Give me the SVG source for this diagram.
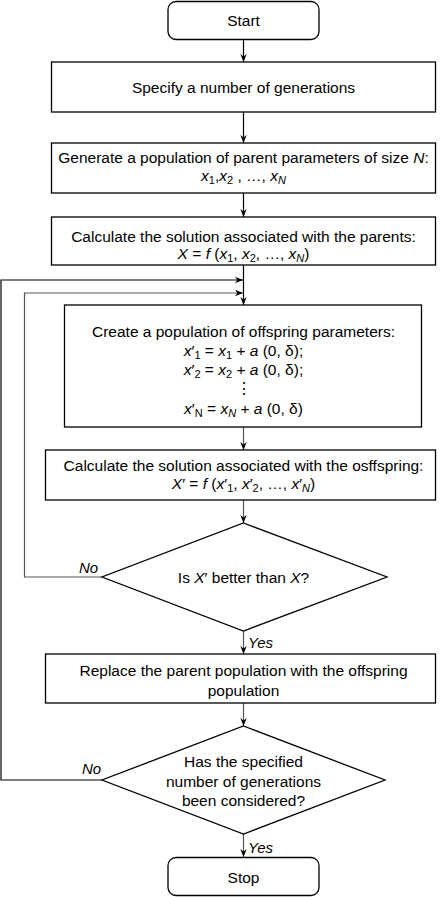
<svg xmlns="http://www.w3.org/2000/svg" width="442" height="897" viewBox="0 0 442 897">
<style>
.n{fill:#fff;stroke:#000;stroke-width:1.3}
.t{font-family:"Liberation Sans",Arial,sans-serif;font-size:15.5px;fill:#000;text-anchor:middle}
.l{font-family:"Liberation Sans",Arial,sans-serif;font-size:15px;font-style:italic;fill:#000}
.i{font-style:italic}
.s{font-size:11px}
.c{fill:none;stroke:#000;stroke-width:1.2}
.g{fill:none;stroke:#555;stroke-width:1.2}
</style>
<defs>
<marker id="a" viewBox="0 0 10 10" refX="10" refY="5" markerWidth="8" markerHeight="8" markerUnits="userSpaceOnUse" orient="auto">
<path d="M0,1 L10,5 L0,9 L3,5 z" fill="#000"/>
</marker>
</defs>
<rect width="442" height="897" fill="#fff"/>
<g id="connectors">
<line class="c" x1="243.5" y1="39" x2="243.5" y2="62" marker-end="url(#a)"/>
<line class="c" x1="243.5" y1="112" x2="243.5" y2="143" marker-end="url(#a)"/>
<line class="c" x1="243.5" y1="193" x2="243.5" y2="217" marker-end="url(#a)"/>
<line class="c" x1="243.5" y1="265" x2="243.5" y2="305" marker-end="url(#a)"/>
<polyline class="c" points="102,780 1,780 1,280 243,280" marker-end="url(#a)"/>
<polyline class="g" points="102,577 24.5,577 24.5,293 243,293" marker-end="url(#a)"/>
<line class="g" x1="243.5" y1="427" x2="243.5" y2="450" marker-end="url(#a)"/>
<line class="g" x1="243.5" y1="500" x2="243.5" y2="523" marker-end="url(#a)"/>
<line class="g" x1="243.5" y1="631" x2="243.5" y2="654" marker-end="url(#a)"/>
<line class="g" x1="243.5" y1="703" x2="243.5" y2="726" marker-end="url(#a)"/>
<line class="g" x1="243.5" y1="834" x2="243.5" y2="857" marker-end="url(#a)"/>
<text class="l" x="79" y="573">No</text>
<text class="l" x="248" y="648">Yes</text>
<text class="l" x="82" y="774">No</text>
<text class="l" x="248" y="853">Yes</text>
</g>
<g id="start">
<rect class="n" x="168" y="1.5" width="151" height="38" rx="8"/>
<text class="t" x="243.5" y="26">Start</text>
</g>
<g id="specify">
<rect class="n" x="51.5" y="62" width="384" height="50"/>
<text class="t" x="243.5" y="93">Specify a number of generations</text>
</g>
<g id="generate">
<rect class="n" x="51.5" y="143" width="384" height="50"/>
<text class="t" x="243.5" y="162.5">Generate a population of parent parameters of size <tspan class="i">N</tspan>:</text>
<text class="t" x="243.5" y="180.5"><tspan class="i">x</tspan><tspan class="s" dy="3">1</tspan><tspan dy="-3">,</tspan><tspan class="i">x</tspan><tspan class="s" dy="3">2</tspan><tspan dy="-3"> , …, </tspan><tspan class="i">x</tspan><tspan class="s i" dy="3">N</tspan></text>
</g>
<g id="calc-parents">
<rect class="n" x="51.5" y="217" width="384" height="48"/>
<text class="t" x="243.5" y="241.5">Calculate the solution associated with the parents:</text>
<text class="t" x="243.5" y="258.5"><tspan class="i">X</tspan> = <tspan class="i">f</tspan> (<tspan class="i">x</tspan><tspan class="s" dy="3">1</tspan><tspan dy="-3">, </tspan><tspan class="i">x</tspan><tspan class="s" dy="3">2</tspan><tspan dy="-3">, …, </tspan><tspan class="i">x</tspan><tspan class="s i" dy="3">N</tspan><tspan dy="-3">)</tspan></text>
</g>
<g id="create">
<rect class="n" x="64.5" y="305" width="357" height="122"/>
<text class="t" x="243.5" y="337">Create a population of offspring parameters:</text>
<text class="t" x="243.5" y="356"><tspan class="i">x</tspan>′<tspan class="s" dy="3">1</tspan><tspan dy="-3"> = </tspan><tspan class="i">x</tspan><tspan class="s" dy="3">1</tspan><tspan dy="-3"> + </tspan><tspan class="i">a</tspan> (0, δ);</text>
<text class="t" x="243.5" y="375"><tspan class="i">x</tspan>′<tspan class="s" dy="3">2</tspan><tspan dy="-3"> = </tspan><tspan class="i">x</tspan><tspan class="s" dy="3">2</tspan><tspan dy="-3"> + </tspan><tspan class="i">a</tspan> (0, δ);</text>
<text class="t" x="243.5" y="394">⋮</text>
<text class="t" x="243.5" y="414"><tspan class="i">x</tspan>′<tspan class="s" dy="3">N</tspan><tspan dy="-3"> = </tspan><tspan class="i">x</tspan><tspan class="s i" dy="3">N</tspan><tspan dy="-3"> + </tspan><tspan class="i">a</tspan> (0, δ)</text>
</g>
<g id="calc-offspring">
<rect class="n" x="45.5" y="450" width="390" height="50"/>
<text class="t" x="243.5" y="470.5">Calculate the solution associated with the osffspring:</text>
<text class="t" x="243.5" y="488.5"><tspan class="i">X</tspan>′ = <tspan class="i">f</tspan> (<tspan class="i">x</tspan>′<tspan class="s" dy="3">1</tspan><tspan dy="-3">, </tspan><tspan class="i">x</tspan>′<tspan class="s" dy="3">2</tspan><tspan dy="-3">, …, </tspan><tspan class="i">x</tspan>′<tspan class="s i" dy="3">N</tspan><tspan dy="-3">)</tspan></text>
</g>
<g id="better">
<polygon class="n" points="243.5,523 387,577 243.5,631 102,577"/>
<text class="t" x="243.5" y="582.5">Is <tspan class="i">X</tspan>′ better than <tspan class="i">X</tspan>?</text>
</g>
<g id="replace">
<rect class="n" x="45.5" y="654" width="390" height="49"/>
<text class="t" x="243.5" y="676">Replace the parent population with the offspring</text>
<text class="t" x="243.5" y="695.5">population</text>
</g>
<g id="generations">
<polygon class="n" points="243.5,726 385,780 243.5,834 102,780"/>
<text class="t" x="243.5" y="767">Has the specified</text>
<text class="t" x="243.5" y="787">number of generations</text>
<text class="t" x="243.5" y="806">been considered?</text>
</g>
<g id="stop">
<rect class="n" x="168" y="857.5" width="151" height="38" rx="8"/>
<text class="t" x="243.5" y="882.5">Stop</text>
</g>
</svg>
